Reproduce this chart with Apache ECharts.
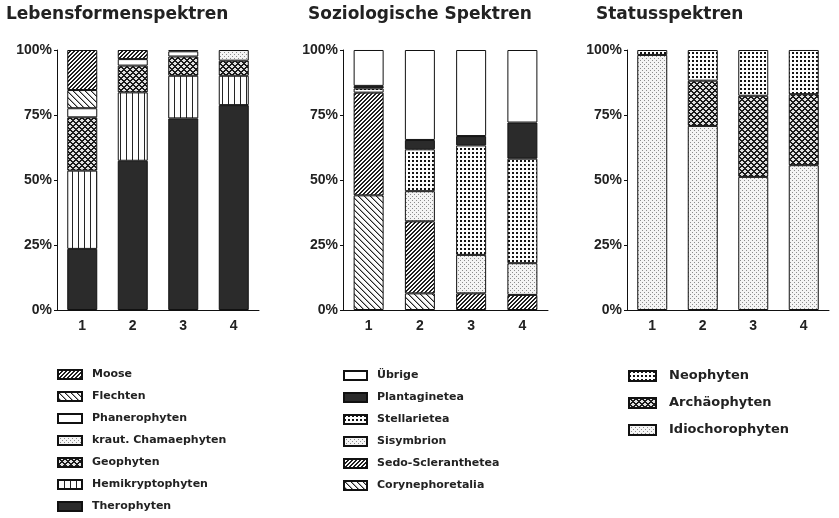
<!DOCTYPE html>
<html>
<head>
<meta charset="utf-8">
<script src="https://cdn.jsdelivr.net/npm/echarts@6/dist/echarts.min.js"></script>
<style>html,body{margin:0;padding:0;background:#fff;}#c{width:839px;height:518px;}</style>
</head>
<body>
<div id="c"></div>
<script>
// ---- data ----
const categories = ['1', '2', '3', '4'];
const yTicks = [0, 25, 50, 75, 100];

// Lebensformenspektren (stack bottom -> top)
const therophyten = [23.5, 57.4, 73.7, 78.8];
const hemikryptophyten = [30.1, 26.3, 16.4, 11.3];
const geophyten = [20.5, 10.3, 7.4, 5.8];
const krautChamaephyten = [0, 0, 0, 4.1];
const phanerophyten = [3.5, 2.5, 2.0, 0];
const flechten = [7.0, 0, 0, 0];
const moose = [15.4, 3.5, 0.5, 0];

// Soziologische Spektren
const corynephoretalia = [44.1, 6.4, 0, 0];
const sedoScleranthetea = [39.5, 27.7, 6.4, 5.8];
const sisymbrion = [0, 11.6, 14.8, 12.2];
const stellarietea = [1.6, 16.1, 42.1, 40.2];
const plantaginetea = [1.0, 3.6, 3.6, 13.9];
const uebrige = [13.8, 34.6, 33.1, 27.9];

// Statusspektren
const idiochorophyten = [98.1, 70.8, 51.2, 55.7];
const archaeophyten = [0, 17.4, 31.2, 27.3];
const neophyten = [1.9, 11.8, 17.6, 17.0];

// ---- patterns ----
function makePat(w, h, fn) {
  const c = document.createElement('canvas');
  c.width = w; c.height = h;
  const ctx = c.getContext('2d');
  const img = ctx.createImageData(w, h);
  for (let y = 0; y < h; y++) for (let x = 0; x < w; x++) {
    const v = fn(x, y); const i = (y * w + x) * 4;
    img.data[i] = v; img.data[i + 1] = v; img.data[i + 2] = v; img.data[i + 3] = 255;
  }
  ctx.putImageData(img, 0, 0);
  return { image: c, repeat: 'repeat' };
}
const P = {
  fwd: makePat(4, 4, (x, y) => ((x + y) % 4 < 2 ? 30 : 250)),
  back: makePat(6, 6, (x, y) => { const d = (x - y + 60) % 6; return d === 0 ? 35 : (d === 1 ? 165 : 252); }),
  white: '#ffffff',
  light: makePat(4, 4, (x, y) => ((x % 4 === 0 && y % 4 === 0) || (x % 4 === 2 && y % 4 === 2) ? 140 : 244)),
  cross: makePat(6, 6, (x, y) => { const a = (x + y) % 6, b = (x - y + 60) % 6; return (a < 2 || b < 2) ? 28 : 225; }),
  vert: makePat(6, 1, (x, y) => (x % 6 === 0 ? 35 : 253)),
  dark: '#2b2b2b',
  dots: makePat(4, 4, (x, y) => (x % 4 < 2 && y % 4 < 2 ? 20 : 253))
};

const FONT = 'Liberation Sans';
function bar(name, data, fill, idx) {
  return {
    name: name, type: 'bar', stack: 's' + idx, xAxisIndex: idx, yAxisIndex: idx,
    barWidth: 30,
    data: data.map(v => (v === 0 ? '-' : v)),
    itemStyle: { color: fill, borderColor: '#111', borderWidth: 1 },
    emphasis: { disabled: true }, animation: false
  };
}

const series = [
  bar('Therophyten', therophyten, P.dark, 0),
  bar('Hemikryptophyten', hemikryptophyten, P.vert, 0),
  bar('Geophyten', geophyten, P.cross, 0),
  bar('kraut. Chamaephyten', krautChamaephyten, P.light, 0),
  bar('Phanerophyten', phanerophyten, P.white, 0),
  bar('Flechten', flechten, P.back, 0),
  bar('Moose', moose, P.fwd, 0),

  bar('Corynephoretalia', corynephoretalia, P.back, 1),
  bar('Sedo-Scleranthetea', sedoScleranthetea, P.fwd, 1),
  bar('Sisymbrion', sisymbrion, P.light, 1),
  bar('Stellarietea', stellarietea, P.dots, 1),
  bar('Plantaginetea', plantaginetea, P.dark, 1),
  bar('Übrige', uebrige, P.white, 1),

  bar('Idiochorophyten', idiochorophyten, P.light, 2),
  bar('Archäophyten', archaeophyten, P.cross, 2),
  bar('Neophyten', neophyten, P.dots, 2)
];

const grids = [
  { left: 57, top: 50, width: 202, height: 260 },
  { left: 343, top: 50, width: 205, height: 260 },
  { left: 627, top: 50, width: 202, height: 260 }
];

function xAx(i) {
  return {
    type: 'category', gridIndex: i, data: categories,
    axisLine: { lineStyle: { color: '#111', width: 1 } },
    axisTick: { show: false },
    axisLabel: { color: '#222', fontFamily: FONT, fontWeight: 'bold', fontSize: 14, margin: 9 }
  };
}
function yAx(i) {
  return {
    type: 'value', gridIndex: i, min: yTicks[0], max: yTicks[yTicks.length - 1], interval: 25,
    axisLine: { show: true, lineStyle: { color: '#111', width: 1 } },
    axisTick: { show: true, length: 3, lineStyle: { color: '#111' } },
    splitLine: { show: false },
    axisLabel: { formatter: '{value}%', color: '#222', fontFamily: FONT, fontWeight: 'bold', fontSize: 14, margin: 5 }
  };
}

const titleStyle = { fontFamily: 'DejaVu Sans', fontWeight: 'bold', fontSize: 17, color: '#222' };
const legText = { fontFamily: 'DejaVu Sans', fontWeight: 'bold', fontSize: 11, color: '#222', lineHeight: 13, padding: [0, 0, 0, 5] };

const option = {
  backgroundColor: '#fff',
  animation: false,
  title: [
    { text: 'Lebensformenspektren', left: 6, top: 6, padding: 0, textStyle: titleStyle },
    { text: 'Soziologische Spektren', left: 308, top: 6, padding: 0, textStyle: titleStyle },
    { text: 'Statusspektren', left: 596, top: 6, padding: 0, textStyle: titleStyle }
  ],
  grid: grids,
  xAxis: [xAx(0), xAx(1), xAx(2)],
  yAxis: [yAx(0), yAx(1), yAx(2)],
  legend: [
    { left: 57, top: 368, orient: 'vertical', padding: 0, icon: 'rect', itemWidth: 24, itemHeight: 9, itemGap: 9, selectedMode: false,
      textStyle: legText,
      data: ['Moose', 'Flechten', 'Phanerophyten', 'kraut. Chamaephyten', 'Geophyten', 'Hemikryptophyten', 'Therophyten'] },
    { left: 343, top: 369, orient: 'vertical', padding: 0, icon: 'rect', itemWidth: 23, itemHeight: 9, itemGap: 9, selectedMode: false,
      textStyle: legText,
      data: ['Übrige', 'Plantaginetea', 'Stellarietea', 'Sisymbrion', 'Sedo-Scleranthetea', 'Corynephoretalia'] },
    { left: 628, top: 369, orient: 'vertical', padding: 0, icon: 'rect', itemWidth: 27, itemHeight: 10, itemGap: 13, selectedMode: false,
      textStyle: { fontFamily: 'DejaVu Sans', fontWeight: 'bold', fontSize: 13, color: '#222', lineHeight: 14, padding: [0, 0, 0, 8] },
      data: ['Neophyten', 'Archäophyten', 'Idiochorophyten'] }
  ],
  series: series
};

const chart = echarts.init(document.getElementById('c'), null, { renderer: 'canvas' });
chart.setOption(option);
</script>
</body>
</html>
